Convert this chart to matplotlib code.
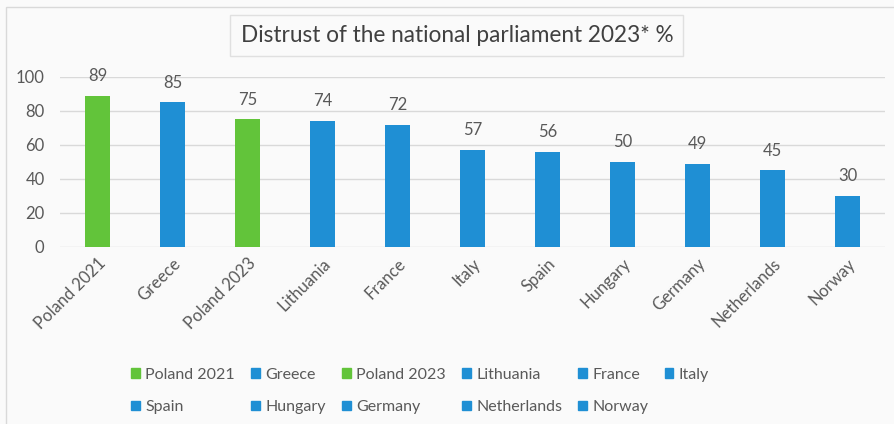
import matplotlib.pyplot as plt
from matplotlib.patches import Patch, Rectangle

plt.rcParams['font.family'] = ['Lato', 'DejaVu Sans']

countries = ['Poland 2021', 'Greece', 'Poland 2023', 'Lithuania', 'France', 'Italy',
             'Spain', 'Hungary', 'Germany', 'Netherlands', 'Norway']
distrust = [89, 85, 75, 74, 72, 57, 56, 50, 49, 45, 30]
highlight = ['Poland 2021', 'Poland 2023']

GREEN = '#62c43a'
BLUE = '#1f8fd4'
TEXT = '#595959'
colors = [GREEN if c in highlight else BLUE for c in countries]

fig = plt.figure(figsize=(8.94, 4.24), dpi=100)
fig.patch.set_facecolor('#fafafa')
fig.patches.append(Rectangle((0.007, -0.01), 1.0, 0.993, transform=fig.transFigure,
                             fill=False, edgecolor='#d9d9d9', linewidth=1))

ax = fig.add_axes([0.067, 0.4175, 0.923, 0.401])
ax.set_facecolor('#fafafa')
x = range(len(countries))
bars = ax.bar(x, distrust, width=0.33, color=colors, zorder=3)

for b, v in zip(bars, distrust):
    ax.annotate(str(v), (b.get_x() + b.get_width() / 2, v), xytext=(0, 8.5),
                textcoords='offset points', ha='center', va='bottom',
                fontsize=12, color=TEXT)

ax.set_ylim(0, 100)
ax.set_xlim(-0.5, len(countries) - 0.5)
ax.set_yticks(range(0, 101, 20))
ax.yaxis.grid(True, color='#d9d9d9', linewidth=1, zorder=0)
for s in ax.spines.values():
    s.set_visible(False)
ax.tick_params(axis='both', length=0, colors=TEXT, labelsize=12)
ax.tick_params(axis='y', pad=11)
ax.tick_params(axis='x', pad=6)
ax.set_xticks(list(x))
ax.set_xticklabels(countries, rotation=45, ha='right', rotation_mode='anchor')

# title in a framed box
fig.text(0.511, 0.917, 'Distrust of the national parliament 2023* %', ha='center', va='center',
         fontsize=16.3, color='#404040',
         bbox=dict(boxstyle='square,pad=0.45', facecolor='#fafafa', edgecolor='#e0e0e0'))

# legend laid out row by row
handles = [Patch(color=c) for c in colors]
order = [0, 6, 1, 7, 2, 8, 3, 9, 4, 10, 5]
fig.legend([handles[i] for i in order], [countries[i] for i in order],
           ncol=6, loc='center', bbox_to_anchor=(0.47, 0.078), frameon=False,
           fontsize=11.5, labelcolor=TEXT, handlelength=0.55, handleheight=0.55,
           handletextpad=0.35, columnspacing=1.0, labelspacing=1.15)

fig.savefig('out.png', dpi=100, facecolor=fig.get_facecolor())
